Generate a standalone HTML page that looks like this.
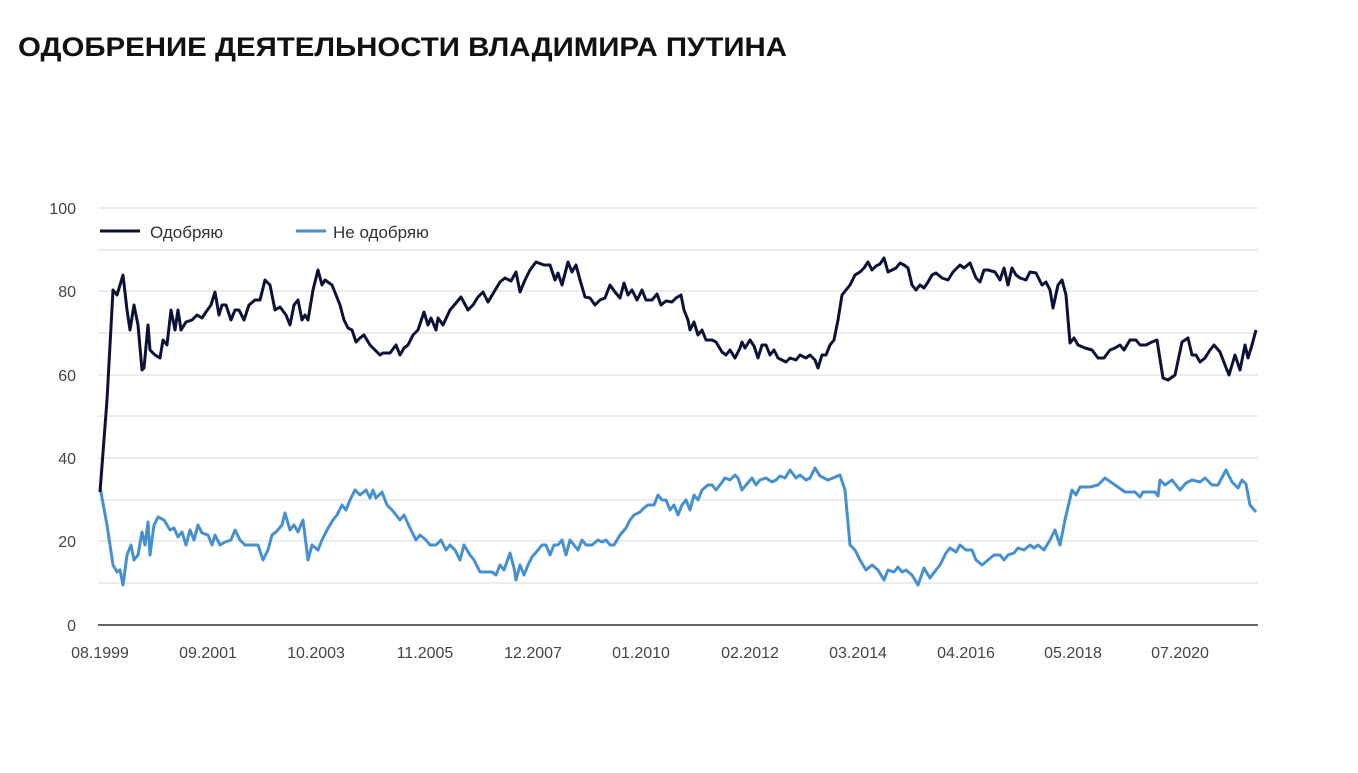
<!DOCTYPE html>
<html><head><meta charset="utf-8"><style>
body{margin:0;background:#fff;width:1358px;height:768px;overflow:hidden;font-family:"Liberation Sans",sans-serif}
</style></head><body>
<svg width="1358" height="768" xmlns="http://www.w3.org/2000/svg" font-family="Liberation Sans, sans-serif">
<text x="18" y="56" font-size="27" font-weight="bold" fill="#111" textLength="769" lengthAdjust="spacingAndGlyphs">ОДОБРЕНИЕ ДЕЯТЕЛЬНОСТИ ВЛАДИМИРА ПУТИНА</text>
<g stroke="#d9d9d9" stroke-width="1">
<line x1="98" x2="1258" y1="208" y2="208"/><line x1="98" x2="1258" y1="250" y2="250"/>
<line x1="98" x2="1258" y1="291" y2="291"/><line x1="98" x2="1258" y1="333" y2="333"/>
<line x1="98" x2="1258" y1="375" y2="375"/><line x1="98" x2="1258" y1="416" y2="416"/>
<line x1="98" x2="1258" y1="458" y2="458"/><line x1="98" x2="1258" y1="500" y2="500"/>
<line x1="98" x2="1258" y1="541" y2="541"/><line x1="98" x2="1258" y1="583" y2="583"/>
</g>
<line x1="98" x2="1258" y1="625" y2="625" stroke="#333" stroke-width="1.5"/>
<g font-size="16" fill="#444" text-anchor="end">
<text x="76" y="214">100</text><text x="76" y="297">80</text><text x="76" y="381">60</text>
<text x="76" y="464">40</text><text x="76" y="547">20</text><text x="76" y="631">0</text>
</g>
<g font-size="16" fill="#444" text-anchor="middle">
<text x="100" y="658">08.1999</text><text x="208" y="658">09.2001</text><text x="316" y="658">10.2003</text>
<text x="425" y="658">11.2005</text><text x="533" y="658">12.2007</text><text x="641" y="658">01.2010</text>
<text x="750" y="658">02.2012</text><text x="858" y="658">03.2014</text><text x="966" y="658">04.2016</text>
<text x="1073" y="658">05.2018</text><text x="1180" y="658">07.2020</text>
</g>
<line x1="100" x2="140" y1="231" y2="231" stroke="#0d1137" stroke-width="3"/>
<text x="150" y="238" font-size="17" fill="#333">Одобряю</text>
<line x1="296" x2="326" y1="231" y2="231" stroke="#4690d2" stroke-width="3"/>
<text x="333" y="238" font-size="17" fill="#333">Не одобряю</text>
<polyline fill="none" stroke="#4690d2" stroke-width="3" stroke-linejoin="round" points="100,487 107,525 113,565 117,572 120,570 123,585 127,555 131,545 134,560 138,555 142,532 145,545 148,522 150,555 154,525 158,517 164,520 170,530 174,528 178,537 182,532 186,545 190,530 194,540 198,525 202,533 208,535 212,545 215,535 220,545 225,542 231,540 235,530 240,540 245,545 252,545 258,545 263,560 268,550 272,535 276,532 282,525 285,513 290,530 294,525 298,532 303,520 308,560 312,545 318,550 322,540 327,530 333,520 337,515 342,505 346,510 350,500 355,490 360,495 366,490 370,498 373,490 376,498 382,492 387,505 392,510 396,515 400,520 404,515 410,528 416,540 420,535 426,540 430,545 436,545 441,540 446,550 450,545 455,550 460,560 464,545 470,555 474,560 480,572 486,572 492,572 496,575 500,565 504,570 510,553 514,568 516,580 520,565 524,575 528,565 532,557 538,550 542,545 546,545 550,555 554,545 558,545 562,540 566,555 570,540 574,545 578,550 582,540 586,545 592,545 598,540 602,542 606,540 610,545 614,545 620,535 626,528 630,520 634,515 640,512 644,508 648,505 654,505 658,495 662,500 666,500 670,510 674,505 678,515 682,505 686,500 690,510 694,495 698,500 702,490 708,485 712,485 716,490 720,485 725,478 730,480 735,475 738,478 742,490 746,485 752,478 756,485 760,480 766,478 772,482 776,480 780,476 785,478 790,470 796,478 800,475 806,480 810,478 815,468 820,476 828,480 840,475 845,490 850,545 855,550 860,560 866,570 872,565 878,570 884,580 888,570 894,572 898,567 902,572 906,570 912,575 918,585 924,568 930,578 936,570 940,565 946,553 950,548 956,552 960,545 966,550 972,550 976,560 982,565 988,560 994,555 1000,555 1004,560 1008,555 1014,553 1018,548 1024,550 1030,545 1034,548 1038,545 1044,550 1050,540 1055,530 1060,545 1065,520 1072,490 1076,495 1080,487 1090,487 1098,485 1105,478 1115,485 1125,492 1135,492 1140,497 1143,492 1155,492 1158,496 1160,480 1165,485 1172,480 1180,490 1186,483 1192,480 1200,482 1205,478 1212,485 1218,485 1226,470 1232,482 1238,488 1242,480 1246,484 1250,505 1256,512"/>
<polyline fill="none" stroke="#0d1137" stroke-width="3" stroke-linejoin="round" points="100,492 107,400 113,290 117,295 123,275 127,310 130,330 134,305 138,325 142,370 144,368 148,325 150,350 155,355 160,358 163,340 167,345 171,310 175,330 178,310 181,330 186,322 192,320 197,315 202,318 206,312 211,305 215,292 219,315 222,305 226,305 231,320 235,310 239,310 244,320 249,305 255,300 260,300 265,280 270,285 275,310 280,307 286,315 290,325 294,305 298,300 302,320 305,315 308,320 313,290 318,270 322,285 325,280 332,285 340,305 344,320 348,328 352,330 356,342 360,338 364,335 370,345 375,350 380,355 383,353 390,353 396,345 400,355 404,348 408,345 413,335 418,330 424,312 428,325 431,318 436,330 438,318 443,325 450,310 456,303 461,297 468,310 473,305 478,297 483,292 488,302 494,292 500,282 505,278 511,281 516,272 520,292 525,280 530,270 536,262 544,265 550,265 555,280 558,273 562,285 568,262 572,272 576,265 580,280 585,297 590,298 595,305 600,300 605,298 610,285 615,292 620,298 624,283 628,295 632,290 637,300 642,290 646,300 652,300 657,294 661,305 666,301 672,302 676,298 681,295 684,310 688,320 690,330 694,322 698,335 702,330 706,340 712,340 716,342 722,352 726,355 730,350 735,358 740,348 742,342 745,348 750,340 754,346 758,358 762,345 766,345 770,355 774,350 778,358 782,360 786,362 790,358 796,360 800,355 806,358 810,355 815,360 818,368 822,355 826,355 830,345 834,340 838,320 842,295 846,290 850,285 855,275 860,272 864,268 868,262 872,270 876,266 880,264 884,258 888,272 892,270 896,268 900,263 904,265 908,268 912,285 916,290 920,285 924,288 928,282 932,275 936,273 942,278 948,280 953,272 957,268 960,265 964,268 970,263 976,278 980,282 984,270 988,270 995,272 1000,280 1004,268 1008,285 1012,268 1016,275 1020,278 1026,280 1030,272 1036,273 1042,285 1046,282 1050,290 1053,308 1058,285 1062,280 1066,295 1070,343 1074,338 1078,345 1085,348 1092,350 1098,358 1104,358 1110,350 1115,348 1120,345 1124,350 1130,340 1136,340 1140,345 1146,345 1152,342 1157,340 1163,378 1168,380 1175,375 1182,342 1188,338 1192,355 1196,355 1200,362 1205,358 1210,350 1214,345 1220,352 1225,365 1229,375 1235,355 1240,370 1245,345 1248,358 1252,345 1256,330"/>
</svg>
</body></html>
